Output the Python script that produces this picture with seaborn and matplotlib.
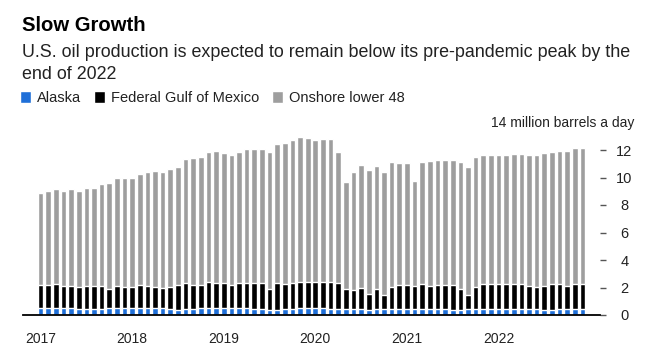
import numpy as np
import pandas as pd
import matplotlib
matplotlib.use('Agg')
import matplotlib.pyplot as plt
import seaborn as sns

# monthly, Jan 2017 .. Dec 2022 (million barrels a day)
months = pd.date_range('2017-01-01', '2022-12-01', freq='MS').strftime('%Y-%m').tolist()

alaska = [0.52, 0.52, 0.52, 0.51, 0.50, 0.47, 0.44, 0.44, 0.46, 0.50, 0.51, 0.52,
          0.52, 0.51, 0.51, 0.50, 0.48, 0.45, 0.40, 0.42, 0.46, 0.49, 0.50, 0.50,
          0.50, 0.49, 0.49, 0.48, 0.46, 0.42, 0.40, 0.38, 0.44, 0.47, 0.48, 0.49,
          0.49, 0.48, 0.47, 0.46, 0.43, 0.42, 0.41, 0.40, 0.43, 0.45, 0.45, 0.46,
          0.46, 0.45, 0.45, 0.44, 0.43, 0.41, 0.39, 0.39, 0.42, 0.44, 0.44, 0.45,
          0.45, 0.44, 0.44, 0.44, 0.43, 0.41, 0.39, 0.40, 0.42, 0.44, 0.44, 0.45]

gulf = [1.68, 1.68, 1.76, 1.62, 1.63, 1.59, 1.69, 1.69, 1.67, 1.42, 1.62, 1.54,
        1.54, 1.69, 1.62, 1.56, 1.51, 1.61, 1.80, 1.93, 1.74, 1.71, 1.92, 1.85,
        1.85, 1.71, 1.86, 1.87, 1.89, 1.93, 1.52, 1.97, 1.84, 1.88, 1.94, 1.93,
        1.93, 1.94, 1.95, 1.89, 1.49, 1.42, 1.58, 1.15, 1.49, 1.03, 1.61, 1.74,
        1.74, 1.68, 1.83, 1.69, 1.77, 1.79, 1.81, 1.53, 1.06, 1.63, 1.78, 1.77,
        1.77, 1.78, 1.78, 1.78, 1.71, 1.66, 1.75, 1.82, 1.80, 1.70, 1.85, 1.84]

onshore = [6.65, 6.84, 6.86, 6.91, 7.01, 6.98, 7.08, 7.08, 7.37, 7.66, 7.87, 7.88,
           7.88, 8.03, 8.25, 8.39, 8.39, 8.54, 8.60, 8.97, 9.19, 9.27, 9.41, 9.55,
           9.41, 9.41, 9.48, 9.70, 9.75, 9.75, 9.91, 10.06, 10.20, 10.35, 10.50, 10.43,
           10.28, 10.36, 10.36, 9.48, 7.73, 8.54, 8.89, 8.97, 8.89, 8.90, 9.04, 8.83,
           8.83, 7.59, 8.82, 9.05, 9.05, 9.05, 9.05, 9.18, 9.26, 9.41, 9.42, 9.44,
           9.44, 9.44, 9.51, 9.51, 9.52, 9.59, 9.66, 9.66, 9.73, 9.81, 9.86, 9.86]

years = ['2017', '2018', '2019', '2020', '2021', '2022']
yticks = [0, 2, 4, 6, 8, 10, 12]

BLUE  = '#1f6fd8'
BLACK = '#000000'
GREY  = '#9e9e9e'

df = pd.DataFrame({'month': months, 'alaska': alaska, 'gulf': gulf, 'onshore': onshore})
df['gulf_top']  = df['alaska'] + df['gulf']
df['total']     = df['gulf_top'] + df['onshore']

sns.set_style('white')
plt.rcParams['font.family'] = ['Liberation Sans', 'DejaVu Sans']

fig = plt.figure(figsize=(6.62, 3.59), dpi=100)
ax  = fig.add_axes([23 / 662, 1 - 315 / 359, 577 / 662, (315 - 122.5) / 359])

# stacked bars: draw cumulative heights back to front
sns.barplot(data=df, x='month', y='total',    color=GREY,  width=0.74, saturation=1,
            ax=ax, label='Onshore lower 48')
sns.barplot(data=df, x='month', y='gulf_top', color=BLACK, width=0.74, saturation=1,
            ax=ax, label='Federal Gulf of Mexico')
sns.barplot(data=df, x='month', y='alaska',   color=BLUE,  width=0.74, saturation=1,
            ax=ax, label='Alaska')
if ax.get_legend() is not None:
    ax.get_legend().remove()

ax.set_xlim(-2.3, 73.3)
ax.set_ylim(0, 14)
ax.set_xlabel('')
ax.set_ylabel('')

for s in ['top', 'left', 'right']:
    ax.spines[s].set_visible(False)
ax.spines['bottom'].set_color('black')
ax.spines['bottom'].set_linewidth(1.3)

ax.set_xticks([i * 12 for i in range(len(years))])
ax.set_xticklabels(years, fontsize=10, color='#222222')
ax.tick_params(axis='x', direction='out', length=5, width=1, color='black', pad=7)

ax.yaxis.tick_right()
ax.set_yticks(yticks)
ax.set_yticklabels([str(v) for v in yticks], fontsize=10.5, color='#222222')
ax.tick_params(axis='y', direction='out', length=4, width=1, color='#555555', pad=13.5)
for lab in ax.get_yticklabels():
    lab.set_horizontalalignment('center')

fig.text(634 / 662, 1 - 123 / 359, '14 million barrels a day', ha='right', va='center',
         fontsize=10, color='#222222')

fig.text(22 / 662, 1 - 31 / 359, 'Slow Growth', ha='left', va='baseline',
         fontsize=14.6, fontweight='bold', color='black')
fig.text(22 / 662, 1 - 57 / 359,
         'U.S. oil production is expected to remain below its pre-pandemic peak by the',
         ha='left', va='baseline', fontsize=12.9, color='#222222')
fig.text(22 / 662, 1 - 79 / 359, 'end of 2022', ha='left', va='baseline',
         fontsize=12.9, color='#222222')

handles, labels = ax.get_legend_handles_labels()
order = [labels.index(n) for n in ['Alaska', 'Federal Gulf of Mexico', 'Onshore lower 48']]
leg = fig.legend([handles[i] for i in order], [labels[i] for i in order],
                 loc='center left', bbox_to_anchor=(20 / 662, 1 - 98 / 359), ncol=3,
                 frameon=False, fontsize=10.5, handlelength=0.75, handleheight=0.8,
                 handletextpad=0.4, columnspacing=0.9, borderpad=0, borderaxespad=0)
for t in leg.get_texts():
    t.set_color('#222222')

fig.savefig('out.png', dpi=100)
